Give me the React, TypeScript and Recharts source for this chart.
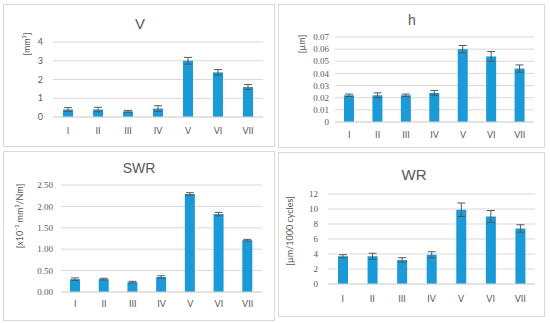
import React from "react";
import { Bar, BarChart, CartesianGrid, ErrorBar, XAxis, YAxis } from "recharts";

const categories = ["I", "II", "III", "IV", "V", "VI", "VII"];

// V [mm3]
const volumeValues = [0.4, 0.4, 0.3, 0.45, 3.0, 2.38, 1.6];
const volumeErrors = [0.1, 0.12, 0.05, 0.15, 0.18, 0.15, 0.13];
const volumeTicks = [0, 1, 2, 3, 4];

// h [um]
const depthValues = [0.022, 0.022, 0.022, 0.024, 0.06, 0.054, 0.044];
const depthErrors = [0.001, 0.002, 0.001, 0.002, 0.003, 0.004, 0.003];
const depthTicks = [0, 0.01, 0.02, 0.03, 0.04, 0.05, 0.06, 0.07];

// SWR [x10^-3 mm3/Nm]
const swrValues = [0.3, 0.3, 0.23, 0.35, 2.29, 1.82, 1.21];
const swrErrors = [0.03, 0.02, 0.02, 0.03, 0.03, 0.04, 0.02];
const swrTicks = [0, 0.5, 1, 1.5, 2, 2.5];

// WR [um/1000 cycles]
const wrValues = [3.7, 3.7, 3.2, 3.9, 9.9, 9.0, 7.4];
const wrErrors = [0.2, 0.4, 0.3, 0.4, 0.9, 0.8, 0.5];
const wrTicks = [0, 2, 4, 6, 8, 10, 12];

const TEXT = "#595959";
const GRID = "#d9d9d9";
const BLUE = "#1a9ad7";
const SANS = "Lato, 'Liberation Sans', sans-serif";
const TITLE_FONT = "'Liberation Sans', sans-serif";
const SERIF = "'Liberation Serif', 'DejaVu Serif', serif";

const toRows = (values: number[], errors: number[]) =>
  categories.map((name, i) => ({ name, value: values[i], err: errors[i] }));

interface PanelProps {
  box: { left: number; top: number; width: number; height: number };
  margin: { top: number; right: number; left: number; bottom: number };
  values: number[];
  errors: number[];
  ticks: number[];
  format: (v: number) => string;
  tickFont: string;
  yGap: number;
  xGap: number;
  title: string;
  titlePos: [number, number];
  titleSize: number;
  yLabel: string;
  yLabelPos: [number, number];
}

function Panel(p: PanelProps) {
  const data = toRows(p.values, p.errors);
  return (
    <div
      style={{
        position: "absolute",
        left: p.box.left,
        top: p.box.top,
        width: p.box.width,
        height: p.box.height,
        border: `1px solid ${GRID}`,
        boxSizing: "border-box",
        background: "#fff",
      }}
    >
      <div style={{ position: "absolute", left: -1, top: -1 }}>
        <BarChart
          width={p.box.width}
          height={p.box.height}
          data={data}
          margin={{ top: p.margin.top, right: p.margin.right, left: 0, bottom: 0 }}
          barCategoryGap={0}
        >
          <CartesianGrid vertical={false} stroke={GRID} />
          <XAxis
            dataKey="name"
            height={p.margin.bottom}
            tickLine={false}
            tickSize={0}
            tickMargin={p.xGap}
            axisLine={{ stroke: GRID }}
            interval={0}
            tick={{ fill: TEXT, fontSize: 9, fontFamily: SANS }}
          />
          <YAxis
            width={p.margin.left}
            domain={[p.ticks[0], p.ticks[p.ticks.length - 1]]}
            ticks={p.ticks}
            tickFormatter={p.format}
            axisLine={false}
            tickLine={false}
            tickSize={0}
            tickMargin={p.yGap}
            interval={0}
            tick={{ fill: TEXT, fontSize: 9, fontFamily: p.tickFont }}
          />
          <Bar dataKey="value" fill={BLUE} barSize={10} isAnimationActive={false}>
            <ErrorBar dataKey="err" width={4} stroke={TEXT} strokeWidth={1} isAnimationActive={false} />
          </Bar>
        </BarChart>
      </div>
      <div
        style={{
          position: "absolute",
          left: p.titlePos[0],
          top: p.titlePos[1],
          transform: "translate(-50%, -50%)",
          color: TEXT,
          fontFamily: TITLE_FONT,
          fontSize: p.titleSize,
          whiteSpace: "nowrap",
        }}
      >
        {p.title}
      </div>
      <div
        style={{
          position: "absolute",
          left: p.yLabelPos[0],
          top: p.yLabelPos[1],
          transform: "translate(-50%, -50%) rotate(-90deg)",
          color: TEXT,
          fontFamily: SANS,
          fontSize: 9,
          whiteSpace: "nowrap",
        }}
      >
        {p.yLabel}
      </div>
    </div>
  );
}

export default function App() {
  return (
    <div style={{ position: "absolute", left: 0, top: 0, width: 550, height: 323, background: "#fff" }}>
      <Panel
        box={{ left: 3, top: 4, width: 272, height: 143 }}
        margin={{ top: 38, right: 12, left: 50, bottom: 30 }}
        values={volumeValues}
        errors={volumeErrors}
        ticks={volumeTicks}
        format={(v) => String(v)}
        tickFont={SANS}
        yGap={10}
        xGap={11}
        title="V"
        titlePos={[136, 18]}
        titleSize={15}
        yLabel="[mm³]"
        yLabelPos={[22, 39]}
      />
      <Panel
        box={{ left: 278, top: 4, width: 267, height: 144 }}
        margin={{ top: 33, right: 11, left: 57, bottom: 26 }}
        values={depthValues}
        errors={depthErrors}
        ticks={depthTicks}
        format={(v) => (v === 0 ? "0" : v.toFixed(2))}
        tickFont={SERIF}
        yGap={6}
        xGap={10}
        title="h"
        titlePos={[133, 15]}
        titleSize={14}
        yLabel="[µm]"
        yLabelPos={[22, 39]}
      />
      <Panel
        box={{ left: 3, top: 151, width: 272, height: 170 }}
        margin={{ top: 34, right: 13, left: 58, bottom: 29 }}
        values={swrValues}
        errors={swrErrors}
        ticks={swrTicks}
        format={(v) => v.toFixed(2)}
        tickFont={SERIF}
        yGap={8}
        xGap={9}
        title="SWR"
        titlePos={[135, 16]}
        titleSize={14}
        yLabel="[x10⁻³ mm³/Nm]"
        yLabelPos={[15, 64]}
      />
      <Panel
        box={{ left: 278, top: 152, width: 267, height: 165 }}
        margin={{ top: 42, right: 10, left: 50, bottom: 33 }}
        values={wrValues}
        errors={wrErrors}
        ticks={wrTicks}
        format={(v) => String(v)}
        tickFont={SERIF}
        yGap={10}
        xGap={12}
        title="WR"
        titlePos={[135, 21]}
        titleSize={15}
        yLabel="[µm/1000 cycles]"
        yLabelPos={[10, 78]}
      />
    </div>
  );
}
